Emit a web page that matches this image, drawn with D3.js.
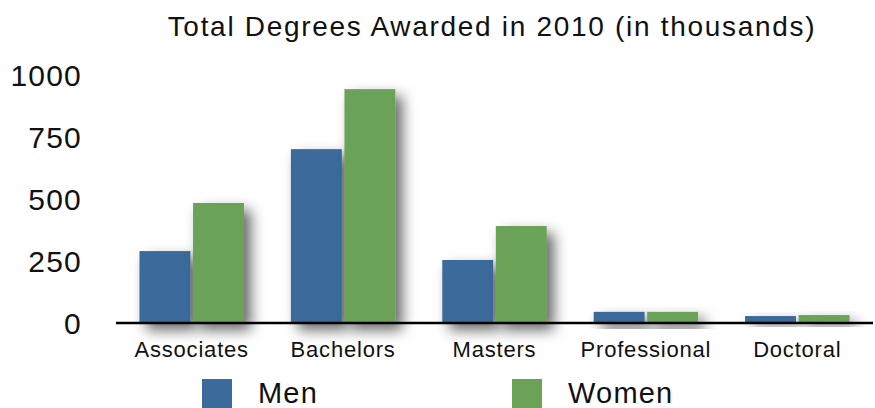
<!DOCTYPE html>
<html>
<head>
<meta charset="utf-8">
<script src="https://cdn.jsdelivr.net/npm/d3@7"></script>
<style>
	body { margin: 0; background: #fff; }
	svg { display: block; font-family: "Liberation Sans", Arial, Helvetica, sans-serif; }
</style>
</head>
<body>
<svg id="chart" width="875" height="408"></svg>
<script>
// values, thousands of degrees
const categories = ["Associates", "Bachelors", "Masters", "Professional", "Doctoral"];
const series = ["Men", "Women"];
const menValues = [290, 701, 254, 45, 28];
const womenValues = [484, 943, 391, 45, 32];
const yTicks = [0, 250, 500, 750, 1000];
const colors = ["#3a6b9b", "#6aa258"];

const svg = d3.select("#chart");

const plot = { left: 116, right: 873, top: 75, bottom: 323 };

const x = d3.scaleBand()
	.domain(categories)
	.range([plot.left, plot.right])
	.paddingInner(0.31)
	.paddingOuter(0.155);

const xSub = d3.scaleBand()
	.domain(series)
	.range([0, x.bandwidth()])
	.paddingInner(0.05);

const y = d3.scaleLinear()
	.domain([0, 1000])
	.range([plot.bottom, plot.top]);

// shadow behind the bars
const defs = svg.append("defs");
const shadow = defs.append("filter")
	.attr("id", "shadow")
	.attr("x", "-50%").attr("y", "-50%")
	.attr("width", "200%").attr("height", "200%");
shadow.append("feDropShadow")
	.attr("dx", 7).attr("dy", 7)
	.attr("stdDeviation", 7)
	.attr("flood-color", "#000")
	.attr("flood-opacity", 0.6);

const gridShadow = defs.append("filter")
	.attr("id", "gridShadow")
	.attr("x", "-5%").attr("y", "-200%")
	.attr("width", "110%").attr("height", "500%");
gridShadow.append("feDropShadow")
	.attr("dx", 0).attr("dy", 1)
	.attr("stdDeviation", 0.6)
	.attr("flood-color", "#000")
	.attr("flood-opacity", 0.15);

// title
svg.append("text")
	.attr("x", 492)
	.attr("y", 36)
	.attr("text-anchor", "middle")
	.attr("font-size", 28)
	.attr("letter-spacing", 1.7)
	.attr("fill", "#111")
	.text("Total Degrees Awarded in 2010 (in thousands)");

// gridlines (not the zero line)
svg.append("g")
	.selectAll("line")
	.data(yTicks.filter(d => d > 0))
	.join("line")
	.attr("x1", plot.left)
	.attr("x2", plot.right)
	.attr("y1", d => y(d))
	.attr("y2", d => y(d))
	.attr("stroke", "#b4b4b4")
	.attr("stroke-width", 2.5)
	.attr("filter", "url(#gridShadow)");

// y tick labels
svg.append("g")
	.selectAll("text")
	.data(yTicks)
	.join("text")
	.attr("x", 82)
	.attr("y", d => y(d) + 11)
	.attr("text-anchor", "end")
	.attr("font-size", 30)
	.attr("letter-spacing", 1.2)
	.attr("fill", "#111")
	.text(d => d);

// bars
const rows = categories.map((c, i) => ({ cat: c, vals: [menValues[i], womenValues[i]] }));

const groups = svg.append("g")
	.selectAll("g")
	.data(rows)
	.join("g")
	.attr("transform", d => `translate(${x(d.cat)},0)`);

groups.selectAll("rect")
	.data(d => d.vals.map((v, j) => ({ s: series[j], v: v, j: j })))
	.join("rect")
	.attr("x", d => xSub(d.s))
	.attr("y", d => y(d.v))
	.attr("width", xSub.bandwidth())
	.attr("height", d => y(0) - y(d.v))
	.attr("fill", d => colors[d.j])
	.attr("filter", "url(#shadow)");

// baseline
svg.append("line")
	.attr("x1", plot.left)
	.attr("x2", plot.right)
	.attr("y1", y(0))
	.attr("y2", y(0))
	.attr("stroke", "#000")
	.attr("stroke-width", 2.5);

// category labels
svg.append("g")
	.selectAll("text")
	.data(categories)
	.join("text")
	.attr("x", d => x(d) + x.bandwidth() / 2)
	.attr("y", 357)
	.attr("text-anchor", "middle")
	.attr("font-size", 22)
	.attr("letter-spacing", 0.8)
	.attr("fill", "#111")
	.text(d => d);

// legend
const legendX = [202, 512];
const legend = svg.append("g")
	.selectAll("g")
	.data(series)
	.join("g")
	.attr("transform", (d, i) => `translate(${legendX[i]},379)`);

legend.append("rect")
	.attr("width", 30)
	.attr("height", 30)
	.attr("fill", (d, i) => colors[i]);

legend.append("text")
	.attr("x", 56)
	.attr("y", 24)
	.attr("font-size", 29)
	.attr("letter-spacing", 1.2)
	.attr("fill", "#111")
	.text(d => d);
</script>
</body>
</html>
